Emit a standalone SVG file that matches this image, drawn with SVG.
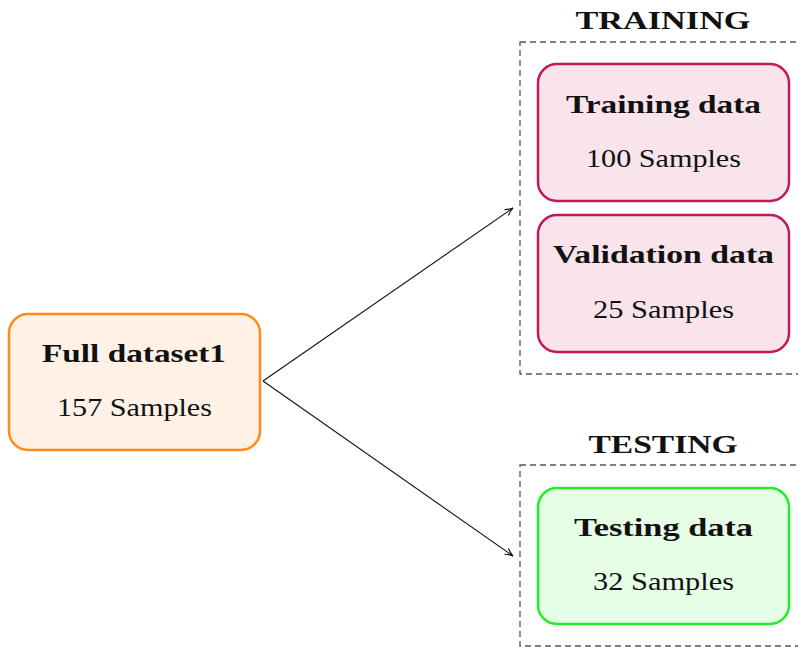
<svg xmlns="http://www.w3.org/2000/svg" width="798" height="648" viewBox="0 0 798 648">
  <style>
    .title, .head, .sub { font-family: "Liberation Serif", "Times New Roman", Times, serif; font-size: 26px; fill: #111; text-anchor: middle; }
    .title, .head { font-weight: bold; }
    .group { fill: none; stroke: #555; stroke-width: 1.3; stroke-dasharray: 6 4; }
    .full { fill: #FFF1E6; stroke: #FF8C1A; stroke-width: 2.5; }
    .train { fill: #F8E4EA; stroke: #C2185B; stroke-width: 2.5; }
    .test { fill: #E6FDE6; stroke: #22EE22; stroke-width: 2.5; }
    .conn { fill: none; stroke: #111; stroke-width: 1.1; }
  </style>
  <defs>
    <marker id="arrow" viewBox="0 0 10 10" refX="9" refY="5" markerWidth="10" markerHeight="10" markerUnits="userSpaceOnUse" orient="auto">
      <path d="M1,1.5 Q5,4 9,5 Q5,6 1,8.5" fill="none" stroke="#111" stroke-width="1.1"/>
    </marker>
  </defs>

  <!-- split groups -->
  <g id="training-group">
    <rect class="group" x="520" y="42" width="300" height="332"/>
    <text class="title" x="663" y="29" textLength="175" lengthAdjust="spacingAndGlyphs">TRAINING</text>
  </g>
  <g id="testing-group">
    <rect class="group" x="520" y="465" width="300" height="181"/>
    <text class="title" x="663" y="453" textLength="149" lengthAdjust="spacingAndGlyphs">TESTING</text>
  </g>

  <!-- nodes -->
  <g id="full-dataset">
    <rect class="full" x="9" y="314" width="251" height="136" rx="19"/>
    <text class="head" x="134" y="362" textLength="184" lengthAdjust="spacingAndGlyphs">Full dataset1</text>
    <text class="sub" x="134.5" y="416" textLength="155" lengthAdjust="spacingAndGlyphs">157 Samples</text>
  </g>
  <g id="training-data">
    <rect class="train" x="538" y="64" width="251" height="137" rx="19"/>
    <text class="head" x="663.5" y="113" textLength="195" lengthAdjust="spacingAndGlyphs">Training data</text>
    <text class="sub" x="663.5" y="167" textLength="155" lengthAdjust="spacingAndGlyphs">100 Samples</text>
  </g>
  <g id="validation-data">
    <rect class="train" x="538" y="215" width="251" height="137" rx="19"/>
    <text class="head" x="663.5" y="263" textLength="221" lengthAdjust="spacingAndGlyphs">Validation data</text>
    <text class="sub" x="663.5" y="318" textLength="141" lengthAdjust="spacingAndGlyphs">25 Samples</text>
  </g>
  <g id="testing-data">
    <rect class="test" x="538" y="488" width="251" height="136" rx="19"/>
    <text class="head" x="663.5" y="536" textLength="179" lengthAdjust="spacingAndGlyphs">Testing data</text>
    <text class="sub" x="663.5" y="590" textLength="141" lengthAdjust="spacingAndGlyphs">32 Samples</text>
  </g>

  <!-- connectors -->
  <g id="connectors">
    <line class="conn" x1="263" y1="381" x2="513" y2="208" marker-end="url(#arrow)"/>
    <line class="conn" x1="263" y1="381" x2="513" y2="556" marker-end="url(#arrow)"/>
  </g>
</svg>
